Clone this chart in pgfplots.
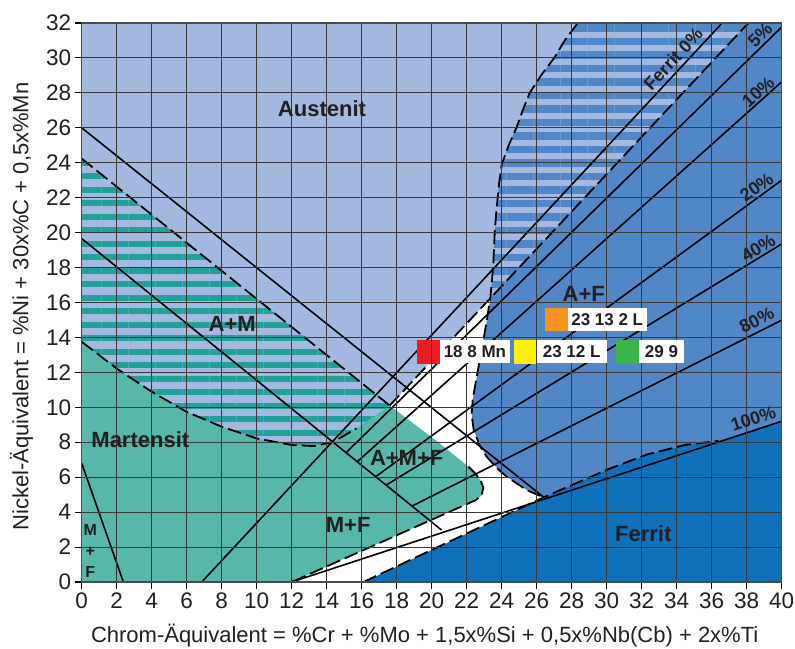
\documentclass[border=0pt]{standalone}
\usepackage{fontspec}
\setmainfont{Liberation Sans}
\usepackage{pgfplots}
\pgfplotsset{compat=1.18}
\usetikzlibrary{patterns.meta}

\definecolor{austenit}{HTML}{A3B9E0}
\definecolor{af}{HTML}{5287C7}
\definecolor{ferrit}{HTML}{1070BA}
\definecolor{mart}{HTML}{57B7AA}
\definecolor{teal2}{HTML}{22A09A}
\definecolor{txt}{HTML}{231F20}
\definecolor{mred}{HTML}{ED1C24}
\definecolor{myellow}{HTML}{FFF200}
\definecolor{mgreen}{HTML}{39B54A}
\definecolor{morange}{HTML}{F7941D}

\tikzset{
  sline/.style={black, line width=1.6bp},
  dline/.style={black, line width=1.8bp, dash pattern=on 14bp off 5bp},
  region/.style={font=\bfseries\fontsize{22bp}{26bp}\selectfont, text=txt},
  pct/.style={font=\bfseries\fontsize{18bp}{21bp}\selectfont, text=txt},
  box/.style={fill=white, inner sep=0pt, minimum height=22.7bp,
    font=\bfseries\fontsize{17bp}{20bp}\selectfont, text=txt},
}

\begin{document}
\begin{tikzpicture}
\begin{axis}[
  at={(81.7bp,67bp)}, anchor=south west,
  width=700bp, height=559bp, scale only axis,
  xmin=0, xmax=40, ymin=0, ymax=32,
  xtick={0,2,...,40}, ytick={0,2,...,32},
  grid=major, major grid style={black!78, line width=1.1bp},
  axis line style={black!70, line width=1.1bp},
  tick align=outside, xtick pos=bottom, ytick pos=left,
  major tick length=7bp, tick style={black, line width=1.1bp},
  ticklabel style={font=\fontsize{22.5bp}{26bp}\selectfont, text=txt},
  /pgf/number format/assume math mode=true,
  axis background/.style={fill=austenit},
  set layers=axis on top, axis on top,
  xlabel={Chrom-Äquivalent = \%Cr + \%Mo + 1,5x\%Si + 0,5x\%Nb(Cb) + 2x\%Ti},
  ylabel={Nickel-Äquivalent = \%Ni + 30x\%C + 0,5x\%Mn},
  label style={font=\fontsize{22bp}{26bp}\selectfont, text=txt},
  xlabel style={at={(axis description cs:0.4900,-0.1091)}, anchor=base},
  ylabel style={at={(axis description cs:-0.0763,0.4928)}, anchor=base},
]

% Ferrit
\addplot[draw=none, fill=ferrit] coordinates {(16.1,0) (26.4,4.85) (28.7,5.85) (30.2,6.5) (32.3,7.3) (34.5,7.85) (36.4,8.08) (40,9.2) (40,0)} -- cycle;

% A+F
\addplot[draw=none, fill=af] coordinates {(23.35,16.25) (23.15,15.0) (22.95,13.8) (22.6,11.9) (22.35,10.5) (22.28,9.6) (22.4,8.7) (22.75,7.8) (23.14,7.17) (23.7,6.55) (24.29,6.02) (25.43,5.26) (26.4,4.85) (28.7,5.85) (30.2,6.5) (32.3,7.3) (34.5,7.85) (36.4,8.08) (40,9.2) (40,32) (38.1,32)} -- cycle;

% A+F hatched
\addplot[draw=none, pattern={Lines[angle=0,distance=13.5bp,line width=7.5bp]}, pattern color=af] coordinates {(23.35,16.25) (38.1,32) (28.35,32) (27.6,31) (27.0,30) (26.25,29) (25.6,28) (25.2,27) (24.86,26.05) (24.4,25) (24.0,23.9) (23.85,22.8) (23.7,21.3) (23.6,20.0) (23.52,18.2) (23.42,17.0)} -- cycle;

% white gap
\addplot[draw=none, fill=white] coordinates {(17.6,10.1) (23.35,16.25) (23.15,15.0) (22.95,13.8) (22.6,11.9) (22.35,10.5) (22.28,9.6) (22.4,8.7) (22.75,7.8) (23.14,7.17) (23.7,6.55) (24.29,6.02) (25.43,5.26) (26.4,4.85) (16.1,0) (12,0)} -- cycle;

% A+M hatched
\addplot[draw=none, pattern={Lines[angle=0,distance=13.5bp,line width=6bp]}, pattern color=teal2] coordinates {(0,13.75) (0,24.24) (17.6,10.1) (16.6,9.4) (15.7,8.79) (14.4,8.03) (13.3,7.78) (12,7.84) (10,8.22) (8,8.89) (6,9.74) (4,10.89) (2,12.22)} -- cycle;

% Martensit, M+F, A+M+F
\addplot[draw=none, fill=mart] coordinates {(0,0) (0,13.75) (2,12.22) (4,10.89) (6,9.74) (8,8.89) (10,8.22) (12,7.84) (13.3,7.78) (14.4,8.03) (15.7,8.79) (16.6,9.4) (17.6,10.1) (20.47,7.93) (22.1,6.6) (22.5,6.2) (22.8,5.8) (22.95,5.4) (22.85,4.95) (22.5,4.68) (12,0)} -- cycle;

% ferrite lines
\addplot[sline] coordinates {(6.86,0) (36.6,32)};
\addplot[sline] coordinates {(15.1,7.4) (40,31.77)};
\addplot[sline] coordinates {(15.75,6.89) (40,28.63)};
\addplot[sline] coordinates {(16.8,6.03) (40,23.0)};
\addplot[sline] coordinates {(17.4,5.55) (40,19.35)};
\addplot[sline] coordinates {(18.88,4.35) (40,14.99)};
\addplot[sline] coordinates {(12,0) (40,9.2)};
\addplot[sline] coordinates {(0,26) (26.4,4.85)};
\addplot[sline] coordinates {(0,19.66) (20.57,2.97)};
\addplot[sline] coordinates {(0,6.8) (2.38,0)};

% boundaries
\addplot[dline] coordinates {(0,24.24) (17.6,10.1)};
\addplot[dline] coordinates {(0,13.75) (2,12.22) (4,10.89) (6,9.74) (8,8.89) (10,8.22) (12,7.84) (13.3,7.78) (14.4,8.03) (15.7,8.79)};
\addplot[dline] coordinates {(17.6,10.1) (38.1,32)};
\addplot[dline] coordinates {(28.35,32) (27.6,31) (27.0,30) (26.25,29) (25.6,28) (25.2,27) (24.86,26.05) (24.4,25) (24.0,23.9) (23.85,22.8) (23.7,21.3) (23.6,20.0) (23.52,18.2) (23.42,17.0) (23.35,16.25) (23.15,15.0) (22.95,13.8) (22.6,11.9) (22.35,10.5) (22.28,9.6) (22.4,8.7) (22.75,7.8) (23.14,7.17) (23.7,6.55) (24.29,6.02) (25.43,5.26) (26.4,4.85)};
\addplot[dline] coordinates {(16.1,0) (26.4,4.85) (28.7,5.85) (30.2,6.5) (32.3,7.3) (34.5,7.85) (36.4,8.08)};
\addplot[dline] coordinates {(22.1,6.6) (22.5,6.2) (22.8,5.8) (22.95,5.4) (22.85,4.95) (22.5,4.68) (12,0)};

% filler metals
\addplot[only marks, mark=square*, mark size=11.35bp, color=mred, on layer=axis foreground] coordinates {(19.8,13.2)};
\addplot[only marks, mark=square*, mark size=11.35bp, color=myellow, on layer=axis foreground] coordinates {(25.35,13.2)};
\addplot[only marks, mark=square*, mark size=11.35bp, color=mgreen, on layer=axis foreground] coordinates {(31.18,13.2)};
\addplot[only marks, mark=square*, mark size=11.35bp, color=morange, on layer=axis foreground] coordinates {(27.12,15.04)};

\begin{pgfonlayer}{axis foreground}
\node[box, minimum width=70bp] at (axis cs:22.47,13.2) {18 8 Mn};
\node[box, minimum width=70bp] at (axis cs:28.0,13.2) {23 12 L};
\node[box, minimum width=45.4bp] at (axis cs:33.13,13.2) {29 9};
\node[box, minimum width=79bp] at (axis cs:30.03,15.04) {23 13 2 L};

\node[region] at (axis cs:13.73,27.1) {Austenit};
\node[region] at (axis cs:8.6,14.8) {A+M};
\node[region] at (axis cs:3.35,8.15) {Martensit};
\node[region] at (axis cs:18.57,7.12) {A+M+F};
\node[region] at (axis cs:15.23,3.28) {M+F};
\node[region] at (axis cs:28.69,16.47) {A+F};
\node[region] at (axis cs:32.09,2.79) {Ferrit};
\node[align=center, inner sep=0pt, font=\bfseries\fontsize{16bp}{21bp}\selectfont, text=txt] at (axis cs:0.49,1.75) {M\\+\\F};

\node[pct, rotate=47.1] at (axis cs:33.8,29.95) {Ferrit 0\%};
\node[pct, rotate=44.4] at (axis cs:38.76,31.3) {5\%};
\node[pct, rotate=41.8] at (axis cs:38.66,28.05) {10\%};
\node[pct, rotate=35.9] at (axis cs:38.57,22.6) {20\%};
\node[pct, rotate=31] at (axis cs:38.66,19.1) {40\%};
\node[pct, rotate=26.7] at (axis cs:38.57,15.0) {80\%};
\node[pct, rotate=18.2] at (axis cs:38.38,9.36) {100\%};
\end{pgfonlayer}

\end{axis}
\pgfresetboundingbox
\useasboundingbox (0,0) rectangle (795bp,649bp);
\end{tikzpicture}
\end{document}
